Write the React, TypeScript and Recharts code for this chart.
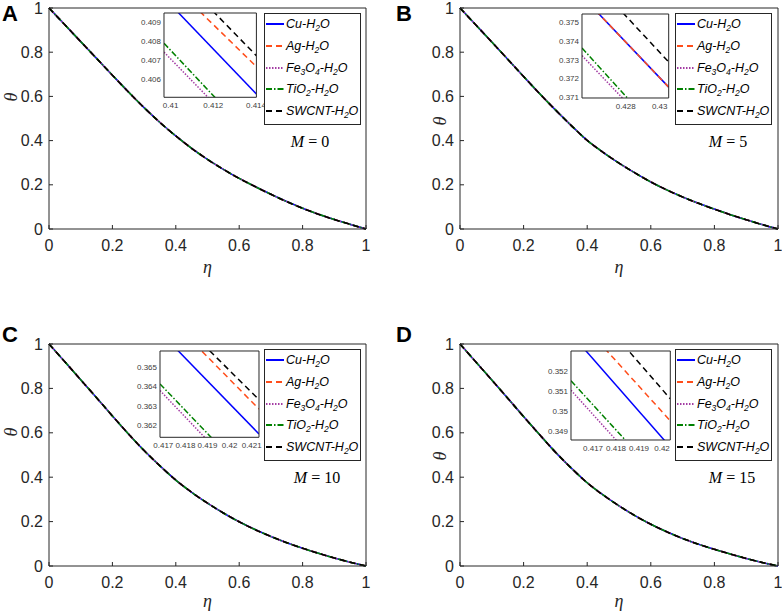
import React from "react";
import { LineChart, Line, XAxis, YAxis, CartesianGrid } from "recharts";

// main curves: eta vs theta (the five fluids overlap)
const ETA = [0, 0.05, 0.1, 0.15, 0.2, 0.25, 0.3, 0.35, 0.4, 0.45, 0.5, 0.55, 0.6, 0.65, 0.7, 0.75, 0.8, 0.85, 0.9, 0.95, 1];
const THETA_M0 = [1, 0.924, 0.848, 0.772, 0.696, 0.621, 0.549, 0.482, 0.421, 0.365, 0.315, 0.27, 0.229, 0.192, 0.157, 0.124, 0.094, 0.067, 0.043, 0.021, 0];
const THETA_M5 = [1, 0.923, 0.846, 0.768, 0.69, 0.613, 0.539, 0.468, 0.401, 0.347, 0.298, 0.254, 0.213, 0.177, 0.145, 0.116, 0.09, 0.065, 0.042, 0.02, 0];
const THETA_M10 = [1, 0.92, 0.839, 0.758, 0.676, 0.596, 0.52, 0.451, 0.387, 0.332, 0.283, 0.239, 0.199, 0.164, 0.133, 0.105, 0.08, 0.057, 0.036, 0.017, 0];
const THETA_M15 = [1, 0.919, 0.838, 0.756, 0.673, 0.592, 0.513, 0.441, 0.375, 0.32, 0.271, 0.227, 0.188, 0.154, 0.124, 0.098, 0.075, 0.054, 0.034, 0.016, 0];
const MAIN_TICKS = [0, 0.2, 0.4, 0.6, 0.8, 1];

// zoomed insets: end points of each fluid's line
const INSET_ETA_M0 = [0.40969, 0.41402];
const CU_M0 = [0.4103, 0.40521];
const AG_M0 = [0.41142, 0.40665];
const FE_M0 = [0.40742, 0.4024];
const TI_M0 = [0.40789, 0.40269];
const SW_M0 = [0.41225, 0.40723];

const INSET_ETA_M5 = [0.42543, 0.43053];
const CU_M5 = [0.37639, 0.37154];
const AG_M5 = [0.37639, 0.37154];
const FE_M5 = [0.37322, 0.36837];
const TI_M5 = [0.37363, 0.36853];
const SW_M5 = [0.37785, 0.37288];

const INSET_ETA_M10 = [0.41685, 0.42133];
const CU_M10 = [0.36678, 0.36155];
const AG_M10 = [0.36798, 0.36283];
const FE_M10 = [0.36378, 0.35845];
const TI_M10 = [0.36412, 0.35881];
const SW_M10 = [0.36835, 0.36331];

const INSET_ETA_M15 = [0.41604, 0.42036];
const CU_M15 = [0.35385, 0.34819];
const AG_M15 = [0.35498, 0.3495];
const FE_M15 = [0.35103, 0.34554];
const TI_M15 = [0.3515, 0.34608];
const SW_M15 = [0.35632, 0.3506];

const AXIS = "#262626";
const SANS = "'Liberation Sans', Arial, sans-serif";
const SERIF = "'Liberation Serif', 'Times New Roman', serif";

const Sub = ({ children }: { children: React.ReactNode }) => (
  <sub style={{ fontSize: 8.5, verticalAlign: -3, lineHeight: 0 }}>{children}</sub>
);

const SERIES = [
  { key: "cu", color: "#0000ff", dash: undefined as string | undefined, label: <>Cu-H<Sub>2</Sub>O</> },
  { key: "ag", color: "#ff4d1a", dash: "6 4", label: <>Ag-H<Sub>2</Sub>O</> },
  { key: "fe", color: "#a33ca3", dash: "1.5 1.5", label: <>Fe<Sub>3</Sub>O<Sub>4</Sub>-H<Sub>2</Sub>O</> },
  { key: "ti", color: "#008000", dash: "6 2 1.5 2", label: <>TiO<Sub>2</Sub>-H<Sub>2</Sub>O</> },
  { key: "sw", color: "#000000", dash: "6 4", label: <>SWCNT-H<Sub>2</Sub>O</> },
];

const PANELS = [
  {
    letter: "A", lx: 2, ly: 21, m: "0", mx: 261, theta: THETA_M0, etaY: 273, thetaX: 11, thetaY: 97,
    geo: { x: 0, y: 0, w: 391, h: 300, pl: 49, pr: 366, pt: 8, pb: 229 },
    inset: {
      l: 115.3, t: 5.4, w: 92.4, h: 84.3, eta: INSET_ETA_M0,
      vals: { cu: CU_M0, ag: AG_M0, fe: FE_M0, ti: TI_M0, sw: SW_M0 },
      yDomain: [0.40503, 0.40949], xTicks: [0.41, 0.412, 0.414], yTicks: [0.406, 0.407, 0.408, 0.409],
    },
  },
  {
    letter: "B", lx: 396, ly: 21, m: "5", mx: 268, theta: THETA_M5, etaY: 273, thetaX: 440, thetaY: 121,
    geo: { x: 391, y: 0, w: 391, h: 300, pl: 460, pr: 778, pt: 8, pb: 229 },
    inset: {
      l: 122.3, t: 6.4, w: 86.7, h: 84, eta: INSET_ETA_M5,
      vals: { cu: CU_M5, ag: AG_M5, fe: FE_M5, ti: TI_M5, sw: SW_M5 },
      yDomain: [0.37096, 0.37544], xTicks: [0.428, 0.43], yTicks: [0.371, 0.372, 0.373, 0.374, 0.375],
    },
  },
  {
    letter: "C", lx: 2, ly: 342, m: "10", mx: 268, theta: THETA_M10, etaY: 607, thetaX: 11, thetaY: 432,
    geo: { x: 0, y: 310, w: 391, h: 306, pl: 49, pr: 366, pt: 344, pb: 566 },
    inset: {
      l: 111, t: 7, w: 99, h: 86.3, eta: INSET_ETA_M10,
      vals: { cu: CU_M10, ag: AG_M10, fe: FE_M10, ti: TI_M10, sw: SW_M10 },
      yDomain: [0.36138, 0.36581], xTicks: [0.417, 0.418, 0.419, 0.42, 0.421], yTicks: [0.362, 0.363, 0.364, 0.365],
    },
  },
  {
    letter: "D", lx: 396, ly: 342, m: "15", mx: 272, theta: THETA_M15, etaY: 607, thetaX: 440, thetaY: 456,
    geo: { x: 391, y: 310, w: 391, h: 306, pl: 460, pr: 778, pt: 344, pb: 566 },
    inset: {
      l: 110.7, t: 7, w: 99.3, h: 89, eta: INSET_ETA_M15,
      vals: { cu: CU_M15, ag: AG_M15, fe: FE_M15, ti: TI_M15, sw: SW_M15 },
      yDomain: [0.34854, 0.35299], xTicks: [0.417, 0.418, 0.419, 0.42], yTicks: [0.349, 0.35, 0.351, 0.352],
    },
  },
];

type PanelCfg = (typeof PANELS)[number];

function MainChart({ p }: { p: PanelCfg }) {
  const g = p.geo;
  const rows = ETA.map((eta, i) => ({ eta, theta: p.theta[i] }));
  const tickStyle = { fontSize: 16, fill: AXIS, fontFamily: SANS };
  // top and right axes are 1px thick so recharts draws them (box + mirrored ticks)
  return (
    <div style={{ position: "absolute", left: g.x, top: g.y }}>
      <LineChart
        width={g.w}
        height={g.h}
        data={rows}
        style={{ overflow: "visible" }}
        margin={{ top: g.pt - g.y - 1, right: g.x + g.w - g.pr - 1, bottom: g.h - (g.pb - g.y) - 50, left: 0 }}
      >
        <XAxis dataKey="eta" type="number" domain={[0, 1]} ticks={MAIN_TICKS} interval={0} height={50}
          tickSize={-4} tickMargin={15} stroke={AXIS} tick={tickStyle} />
        <XAxis xAxisId="top" dataKey="eta" orientation="top" type="number" domain={[0, 1]} ticks={MAIN_TICKS}
          interval={0} height={1} tickSize={-4} tick={false} stroke={AXIS} />
        <YAxis type="number" domain={[0, 1]} ticks={MAIN_TICKS} interval={0} width={g.pl - g.x}
          tickSize={-4} tickMargin={10} stroke={AXIS} tick={tickStyle} />
        <YAxis yAxisId="right" orientation="right" type="number" domain={[0, 1]} ticks={MAIN_TICKS} interval={0}
          width={1} tickSize={-4} tick={false} stroke={AXIS} />
        {/* invisible copy bound to the mirrored axes */}
        <Line xAxisId="top" yAxisId="right" dataKey="theta" stroke="none" dot={false} activeDot={false}
          legendType="none" isAnimationActive={false} />
        {SERIES.map((s) => (
          <Line key={s.key} type="monotone" dataKey="theta" stroke={s.color} strokeWidth={1.6}
            strokeDasharray={s.dash} dot={false} isAnimationActive={false} />
        ))}
      </LineChart>
    </div>
  );
}

function Inset({ p }: { p: PanelCfg }) {
  const g = p.geo;
  const ins = p.inset;
  const rows = ins.eta.map((eta, i) => ({
    eta,
    cu: ins.vals.cu[i],
    ag: ins.vals.ag[i],
    fe: ins.vals.fe[i],
    ti: ins.vals.ti[i],
    sw: ins.vals.sw[i],
  }));
  const xDomain = [ins.eta[0], ins.eta[1]];
  const tickStyle = { fontSize: 8, fill: "#404040", fontFamily: SANS };
  return (
    <div style={{ position: "absolute", left: g.pl + ins.l - 40, top: g.pt + ins.t - 1 }}>
      <LineChart width={40 + ins.w + 21} height={1 + ins.h + 19} data={rows}
        margin={{ top: 0, right: 20, bottom: 0, left: 0 }}>
        <CartesianGrid horizontal={false} vertical={false} fill="#ffffff" />
        <XAxis dataKey="eta" type="number" domain={xDomain} allowDataOverflow ticks={ins.xTicks} interval={0}
          height={19} tickLine={false} tickSize={4} tickMargin={1} stroke={AXIS} tick={tickStyle} />
        <XAxis xAxisId="top" dataKey="eta" orientation="top" type="number" domain={xDomain} allowDataOverflow
          ticks={ins.xTicks} height={1} tick={false} tickLine={false} stroke={AXIS} />
        <YAxis type="number" domain={ins.yDomain} allowDataOverflow ticks={ins.yTicks} interval={0} width={40}
          tickLine={false} tickSize={2} tickMargin={1} stroke={AXIS} tick={tickStyle} />
        <YAxis yAxisId="right" orientation="right" type="number" domain={ins.yDomain} allowDataOverflow
          ticks={ins.yTicks} width={1} tick={false} tickLine={false} stroke={AXIS} />
        <Line xAxisId="top" yAxisId="right" dataKey="cu" stroke="none" dot={false} activeDot={false}
          legendType="none" isAnimationActive={false} />
        {SERIES.map((s) => (
          <Line key={s.key} type="linear" dataKey={s.key} stroke={s.color} strokeWidth={1.5}
            strokeDasharray={s.dash} dot={false} isAnimationActive={false} />
        ))}
      </LineChart>
    </div>
  );
}

function LegendBox({ p }: { p: PanelCfg }) {
  const g = p.geo;
  const rowY = [10, 32, 54, 75, 97];
  return (
    <div style={{
      position: "absolute", left: g.pl + 215, top: g.pt + 5, width: 97, height: 112,
      border: `1px solid ${AXIS}`, background: "#fff", boxSizing: "border-box",
    }}>
      {SERIES.map((s, i) => (
        <div key={s.key} style={{
          position: "absolute", left: 1, top: rowY[i] - 9, height: 18, display: "flex", alignItems: "center",
          fontFamily: SANS, fontStyle: "italic", fontSize: 12.5, color: "#000", whiteSpace: "nowrap",
        }}>
          <svg width={18} height={4} style={{ marginRight: 2 }}>
            <line x1={0} y1={2} x2={18} y2={2} stroke={s.color} strokeWidth={2} strokeDasharray={s.dash} />
          </svg>
          <span>{s.label}</span>
        </div>
      ))}
    </div>
  );
}

export default function App() {
  return (
    <div style={{ position: "absolute", left: 0, top: 0, width: 782, height: 616, background: "#fff", overflow: "hidden", fontFamily: SANS }}>
      {PANELS.map((p) => (
        <React.Fragment key={p.letter}>
          <MainChart p={p} />
          <Inset p={p} />
          <LegendBox p={p} />
        </React.Fragment>
      ))}
      <svg width={782} height={616} style={{ position: "absolute", left: 0, top: 0, pointerEvents: "none" }}>
        {PANELS.map((p) => (
          <g key={p.letter}>
            <text x={p.lx} y={p.ly} fontFamily={SANS} fontWeight="bold" fontSize={22} fill="#000">{p.letter}</text>
            <text x={(p.geo.pl + p.geo.pr) / 2} y={p.etaY} fontFamily={SERIF} fontStyle="italic" fontSize={18}
              textAnchor="middle" fill={AXIS}>η</text>
            <text x={p.thetaX} y={p.thetaY} fontFamily={SERIF} fontStyle="italic" fontSize={18} textAnchor="middle"
              dominantBaseline="central" fill={AXIS} transform={`rotate(-90 ${p.thetaX} ${p.thetaY})`}>θ</text>
            <text x={p.geo.pl + p.mx} y={p.geo.pt + 139} fontFamily={SERIF} fontSize={16} textAnchor="middle" fill="#000">
              <tspan fontStyle="italic">M</tspan> = {p.m}
            </text>
          </g>
        ))}
      </svg>
    </div>
  );
}
